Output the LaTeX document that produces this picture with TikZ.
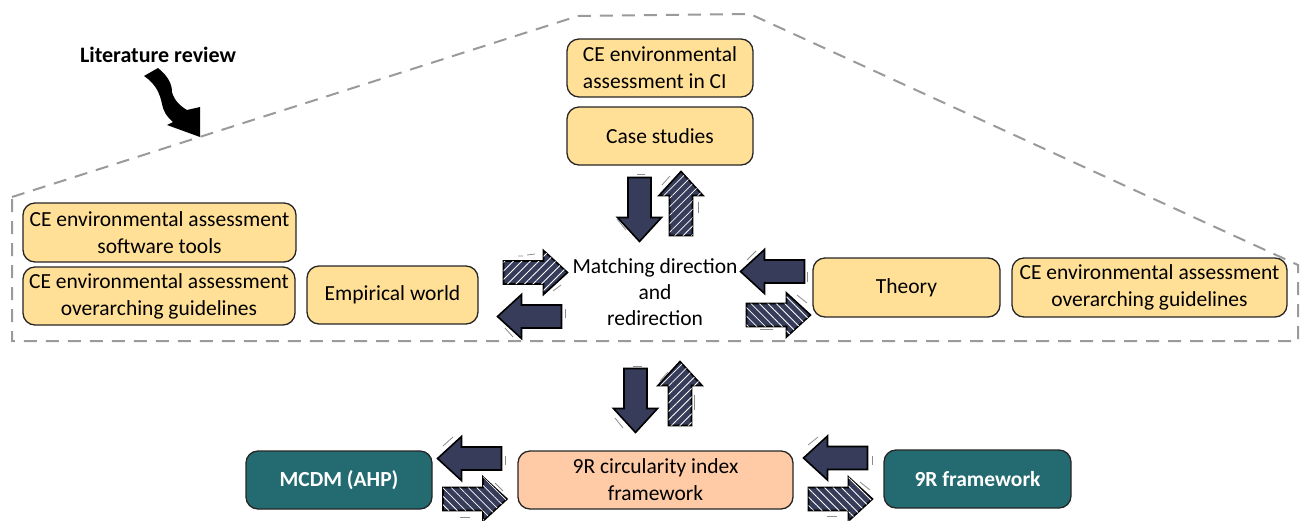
\documentclass[tikz,border=0pt]{standalone}
\usepackage{fontspec}
\setmainfont{Carlito}
\usetikzlibrary{patterns.meta}
\definecolor{boxyellow}{HTML}{FFE096}
\definecolor{navy}{HTML}{363C59}
\definecolor{tealbox}{HTML}{246B71}
\definecolor{peach}{HTML}{FFCBA6}
\definecolor{dashgray}{HTML}{9A9A9A}
\tikzset{
  box/.style={draw=black!85, line width=1.3pt, rounded corners=12pt, fill=boxyellow,
    align=center, inner sep=0pt, font=\fontsize{21.5}{27}\selectfont},
  tealnode/.style={box, fill=tealbox, text=white, font=\fontsize{21.5}{27}\selectfont\bfseries},
  darkarrow/.style={draw=black, line width=1.6pt, fill=navy, line join=miter},
  hatchA/.style={darkarrow, postaction={pattern={Lines[angle=45,distance=6pt,line width=0.8pt]}, pattern color=white}},
  hatchB/.style={darkarrow, postaction={pattern={Lines[angle=-45,distance=6pt,line width=0.8pt]}, pattern color=white}},
  motion/.style={draw=black!45, line width=0.8pt},
  pics/blk/.style={code={
    \path[#1] (-32,-11.5) -- (8,-11.5) -- (8,-22) -- (32,0) -- (8,22) -- (8,11.5) -- (-32,11.5) -- cycle;
    \coordinate (-c) at (0,0);
  }},
}
\begin{document}
\begin{tikzpicture}[x=1pt,y=-1pt]
\useasboundingbox (0,0) rectangle (1304,520);

% dashed outline
\draw[dashgray, line width=2pt, dash pattern=on 13pt off 9pt]
  (12,197) -- (578,16) -- (750,14) -- (1298,265) -- (1298,341) -- (12,341) -- cycle;

% literature review
\node[font=\fontsize{22}{26}\selectfont\bfseries] (lit) at (158,55) {Literature review};
\fill[black] (144,76) -- (158,68) .. controls (168,76) and (172,84) .. (172,92)
  .. controls (174,100) and (180,106) .. (187,110) -- (200,107) -- (200,137) -- (167,125)
  -- (173,122) .. controls (166,116) and (163,110) .. (162,104)
  .. controls (160,94) and (156,84) .. (144,76) -- cycle;

% boxes
\node[box, minimum width=186pt, minimum height=58pt, align=left] (ci) at (660,68) {CE environmental\\assessment in CI};
\node[box, minimum width=186pt, minimum height=58pt] (case) at (660,136) {Case studies};
\node[box, minimum width=273pt, minimum height=59pt] (sw) at (159.5,232.5) {CE environmental assessment\\software tools};
\node[box, minimum width=272pt, minimum height=58pt] (og1) at (159,296) {CE environmental assessment\\overarching guidelines};
\node[box, minimum width=171pt, minimum height=58pt] (emp) at (392.5,295) {Empirical world};
\node[box, minimum width=187pt, minimum height=59pt] (theory) at (906.5,287.5) {Theory};
\node[box, minimum width=275pt, minimum height=59pt] (og2) at (1149.5,287.5) {CE environmental assessment\\overarching guidelines};
\node[align=center, font=\fontsize{21.5}{26}\selectfont] (match) at (655,292) {Matching direction\\and\\redirection};
\node[tealnode, minimum width=186pt, minimum height=58pt] (mcdm) at (339,480) {MCDM (AHP)};
\node[box, fill=peach, minimum width=275pt, minimum height=58pt] (nr) at (655.5,480) {9R circularity index\\framework};
\node[tealnode, minimum width=187pt, minimum height=58pt] (nrf) at (977.5,479) {9R framework};

% block arrows
\pic[rotate=-90] (a1) at (639.5,209.5) {blk=darkarrow};
\pic[rotate=90] (a2) at (681,203.5) {blk=hatchA};
\pic (a3) at (535.5,272.5) {blk=hatchA};
\pic[rotate=180] (a4) at (529.5,316.5) {blk=darkarrow};
\pic[rotate=180] (a5) at (772.5,271.5) {blk=darkarrow};
\pic (a6) at (778.5,315) {blk=hatchB};
\pic[rotate=-90] (a7) at (635.5,400.5) {blk=darkarrow};
\pic[rotate=90] (a8) at (680,393.5) {blk=hatchA};
\pic[rotate=180] (a9) at (469.5,458.5) {blk=darkarrow};
\pic (a10) at (475,499) {blk=hatchB};
\pic[rotate=180] (a11) at (835.5,458) {blk=darkarrow};
\pic (a12) at (840.5,499) {blk=hatchB};

% motion strokes
\draw[motion] (637,174) -- (645,174);
\draw[motion] (617,219) -- (626,230);
\draw[motion] (662,185) -- (670,176);
\draw[motion] (698,202) -- (698,213);
\draw[motion] (518,256) -- (523,256) (527,255) -- (535,254);
\draw[motion] (553,291) -- (561,285);
\draw[motion] (565,309) -- (565,318);
\draw[motion] (505,328) -- (513,337);
\draw[motion] (747,260) -- (756,251);
\draw[motion] (807,272) -- (807,282);
\draw[motion] (797,295) -- (807,303);
\draw[motion] (760,329) -- (773,329);
\draw[motion] (633,366) -- (642,366);
\draw[motion] (615,418) -- (623,428);
\draw[motion] (660,381) -- (668,372);
\draw[motion] (694,395) -- (694,410);
\draw[motion] (443,446) -- (453,437);
\draw[motion] (505,456) -- (505,465);
\draw[motion] (495,483) -- (503,491);
\draw[motion] (460,517) -- (470,517);
\draw[motion] (808,445) -- (818,437);
\draw[motion] (872,456) -- (872,465);
\draw[motion] (860,482) -- (870,490);
\draw[motion] (827,516) -- (837,516);
\end{tikzpicture}
\end{document}
